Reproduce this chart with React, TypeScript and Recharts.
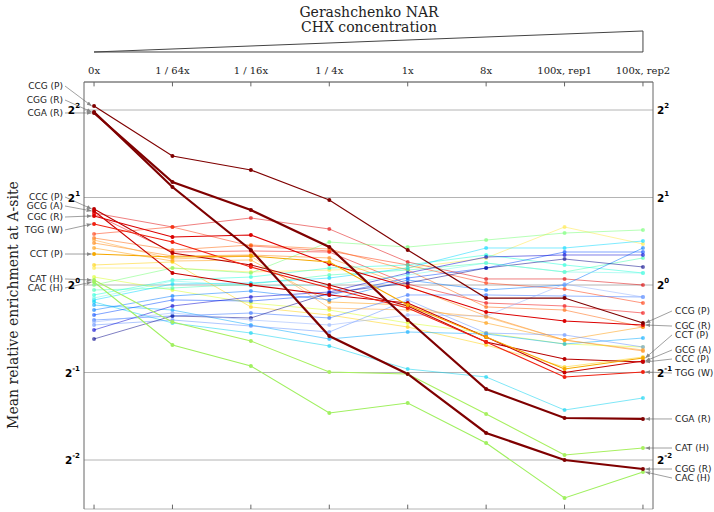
import React from 'react';
import { LineChart, Line, XAxis, YAxis, CartesianGrid, ReferenceLine, ReferenceDot } from 'recharts';

// x categories (CHX concentration)
const categories = ['0x', '1 / 64x', '1 / 16x', '1 / 4x', '1x', '8x', '100x, rep1', '100x, rep2'];
// y ticks: log2 of mean relative enrichment (labelled 2^n)
const yTicks = [-2, -1, 0, 1, 2];

// log2(mean relative enrichment at A-site), one value per category
const CCG_P = [2.046, 1.474, 1.314, 0.971, 0.4, -0.149, -0.149, -0.434];
const CGG_R = [1.977, 1.12, 0.4, -0.583, -1.017, -1.691, -2.0, -2.103];
const CGA_R = [1.966, 1.177, 0.857, 0.434, -0.4, -1.189, -1.52, -1.531];
const CCC_P = [0.869, 0.366, 0.229, 0.0, -0.24, -0.651, -0.846, -0.88];
const GCG_A = [0.846, 0.137, 0.0, -0.114, -0.206, -0.594, -1.0, -0.869];
const CGC_R = [0.789, 0.549, 0.571, 0.24, -0.023, -0.309, -0.411, -0.457];
const TGG_W = [0.697, 0.491, 0.206, -0.034, -0.263, -0.651, -1.051, -0.994];
const CCT_P = [0.354, 0.32, 0.331, 0.263, -0.229, -0.594, -0.96, -0.834];
const CAT_H = [0.057, -0.423, -0.64, -0.994, -1.017, -1.474, -1.943, -1.863];
const CAC_H = [0.034, -0.686, -0.926, -1.463, -1.349, -1.806, -2.434, -2.137];

// other codons (not annotated)
const u1 = [0.823, 0.663, 0.766, 0.64, 0.263, 0.069, 0.069, 0.0];
const u2 = [0.811, 0.377, 0.389, 0.377, 0.011, -0.206, -0.24, -0.32];
const u3 = [0.583, 0.663, 0.446, 0.389, 0.229, 0.023, -0.046, -0.206];
const u4 = [0.537, 0.4, 0.457, 0.411, 0.171, -0.251, -0.286, -0.48];
const u5 = [0.48, 0.331, 0.343, 0.309, -0.011, -0.354, -0.629, -0.754];
const u6 = [0.423, 0.274, 0.286, -0.194, -0.229, -0.434, -0.629, -0.48];
const u7 = [0.229, 0.263, -0.251, -0.343, -0.48, -0.686, -0.937, -0.823];
const u8 = [0.194, 0.194, 0.149, 0.171, 0.194, 0.309, 0.663, 0.469];
const u9 = [0.091, -0.057, -0.206, -0.286, -0.434, -0.549, -0.674, -0.709];
const u10 = [0.0, 0.194, 0.137, 0.491, 0.434, 0.514, 0.594, 0.629];
const u11 = [-0.057, -0.034, 0.011, 0.114, 0.171, 0.251, 0.149, 0.309];
const u12 = [-0.114, 0.057, 0.091, 0.194, 0.229, 0.343, 0.229, 0.137];
const u13 = [-0.171, 0.011, 0.023, 0.08, 0.194, 0.423, 0.423, 0.503];
const u14 = [-0.194, -0.434, -0.549, -0.697, -0.96, -1.051, -1.429, -1.291];
const u15 = [-0.229, -0.286, -0.457, -0.617, -0.537, -0.56, -0.674, -0.606];
const u16 = [-0.286, -0.126, -0.069, -0.171, 0.057, -0.057, 0.0, 0.423];
const u17 = [-0.343, -0.171, -0.183, -0.114, 0.08, 0.194, 0.377, 0.377];
const u18 = [-0.4, -0.354, -0.32, -0.377, -0.114, -0.114, -0.126, -0.137];
const u19 = [-0.457, -0.4, -0.469, -0.537, -0.171, -0.549, -0.571, -0.709];
const u20 = [-0.514, -0.24, -0.137, -0.08, 0.137, 0.32, 0.343, 0.343];
const u21 = [-0.617, -0.354, -0.377, -0.091, 0.023, 0.194, 0.297, 0.206];
const u22 = [-0.423, -0.32, -0.4, -0.457, -0.343, -0.354, 0.011, -0.137];
const u23 = [0.514, 0.297, 0.331, -0.263, -0.286, -0.366, -0.629, -0.743];
const u24 = [-0.149, 0.046, -0.011, 0.0, 0.114, 0.251, 0.149, 0.137];

const background = [
  { key: 'u1', values: u1, color: '#e00000' },
  { key: 'u2', values: u2, color: '#f00000' },
  { key: 'u3', values: u3, color: '#ff3000' },
  { key: 'u4', values: u4, color: '#ff6000' },
  { key: 'u5', values: u5, color: '#ff8000' },
  { key: 'u6', values: u6, color: '#ff9800' },
  { key: 'u7', values: u7, color: '#ffd000' },
  { key: 'u8', values: u8, color: '#ffe840' },
  { key: 'u9', values: u9, color: '#d8ff20' },
  { key: 'u10', values: u10, color: '#70ff70' },
  { key: 'u11', values: u11, color: '#40ffb0' },
  { key: 'u12', values: u12, color: '#20ffd8' },
  { key: 'u13', values: u13, color: '#00d8ff' },
  { key: 'u14', values: u14, color: '#00d0f0' },
  { key: 'u15', values: u15, color: '#00a8ff' },
  { key: 'u16', values: u16, color: '#0078ff' },
  { key: 'u17', values: u17, color: '#0048ff' },
  { key: 'u18', values: u18, color: '#3070ff' },
  { key: 'u19', values: u19, color: '#6090ff' },
  { key: 'u20', values: u20, color: '#0000d0' },
  { key: 'u21', values: u21, color: '#000088' },
  { key: 'u22', values: u22, color: '#90b0ff' },
  { key: 'u23', values: u23, color: '#ffa030' },
  { key: 'u24', values: u24, color: '#70f8e8' },
];

const annotated = [
  { key: 'CCC', name: 'CCC (P)', values: CCC_P, color: '#b80000', width: 1.1 },
  { key: 'GCG', name: 'GCG (A)', values: GCG_A, color: '#c80000', width: 1.1 },
  { key: 'CGC', name: 'CGC (R)', values: CGC_R, color: '#dc0000', width: 1.1 },
  { key: 'TGG', name: 'TGG (W)', values: TGG_W, color: '#f02010', width: 1.1 },
  { key: 'CCT', name: 'CCT (P)', values: CCT_P, color: '#f5a800', width: 1.1 },
  { key: 'CAT', name: 'CAT (H)', values: CAT_H, color: '#a8f060', width: 1.1 },
  { key: 'CAC', name: 'CAC (H)', values: CAC_H, color: '#a0f060', width: 1.1 },
  { key: 'CCG', name: 'CCG (P)', values: CCG_P, color: '#7f0000', width: 1.2 },
  { key: 'CGG', name: 'CGG (R)', values: CGG_R, color: '#7f0000', width: 2.2 },
  { key: 'CGA', name: 'CGA (R)', values: CGA_R, color: '#7f0000', width: 2.2 },
];

// annotation label anchor heights (log2 units) on the left and right margins
const labelLayout = [
  { key: 'CCG', left: 2.274, right: -0.297 },
  { key: 'CGG', left: 2.114, right: -2.103 },
  { key: 'CGA', left: 1.966, right: -1.531 },
  { key: 'CCC', left: 1.006, right: -0.846 },
  { key: 'GCG', left: 0.903, right: -0.743 },
  { key: 'CGC', left: 0.777, right: -0.469 },
  { key: 'TGG', left: 0.629, right: -1.006 },
  { key: 'CCT', left: 0.354, right: -0.571 },
  { key: 'CAT', left: 0.069, right: -1.863 },
  { key: 'CAC', left: -0.034, right: -2.206 },
];

const X_DOMAIN: [number, number] = [-0.128, 7.128];
const Y_DOMAIN: [number, number] = [-2.56, 2.32];

const data = categories.map((c, i) => {
  const row: Record<string, number | string> = { x: i, cat: c };
  background.forEach((s) => { row[s.key] = s.values[i]; });
  annotated.forEach((s) => { row[s.key] = s.values[i]; });
  return row;
});

const serif = 'DejaVu Serif, serif';
const sans = 'DejaVu Sans, sans-serif';

const XTick = (props: any) => {
  const { x, y, payload } = props;
  return (
    <text x={x} y={y} textAnchor="middle" fontFamily={serif} fontSize={10} fill="#222">
      {categories[payload.value]}
    </text>
  );
};

const YTick = (props: any) => {
  const { x, y, payload, anchor } = props;
  return (
    <text x={x} y={y + 4} textAnchor={anchor} fontFamily={sans} fontWeight="bold" fontSize={10.5} fill="#000">
      2
      <tspan dy={-6} fontSize={7}>{payload.value}</tspan>
    </text>
  );
};

const LabelText = (anchor: 'start' | 'end', text: string) => (props: any) => (
  <text x={props.cx} y={props.cy} dy="0.35em" textAnchor={anchor} fontFamily={sans} fontSize={9} fill="#222">
    {text}
  </text>
);

export default function App() {
  const lastIdx = categories.length - 1;
  return (
    <div style={{ position: 'absolute', left: 0, top: 0, width: 714, height: 512, background: '#fff' }}>
      <svg width={0} height={0} style={{ position: 'absolute' }}>
        <defs>
          <marker id="arr" viewBox="0 0 10 10" refX="10" refY="5" markerWidth="5" markerHeight="5" orient="auto" markerUnits="userSpaceOnUse">
            <path d="M0,1 L10,5 L0,9 z" fill="#888" />
          </marker>
        </defs>
      </svg>
      <LineChart width={714} height={512} data={data} margin={{ top: 62, right: 31, bottom: 3, left: 54 }}>
        <CartesianGrid xAxisId="t" yAxisId="l" vertical={false} stroke="#b4b4b4" strokeWidth={1} />
        <XAxis
          xAxisId="t"
          dataKey="x"
          type="number"
          orientation="top"
          domain={X_DOMAIN}
          ticks={categories.map((_, i) => i)}
          allowDataOverflow
          height={20}
          tickSize={0}
          tickMargin={8}
          tickLine={false}
          axisLine={{ stroke: '#666' }}
          tick={<XTick />}
        />
        <XAxis
          xAxisId="b"
          dataKey="x"
          type="number"
          orientation="bottom"
          domain={X_DOMAIN}
          allowDataOverflow
          height={0}
          tick={false}
          tickLine={false}
          axisLine={{ stroke: '#666' }}
        />
        <YAxis
          yAxisId="l"
          type="number"
          domain={Y_DOMAIN}
          ticks={yTicks}
          allowDataOverflow
          width={30}
          tickSize={0}
          tickMargin={4}
          tickLine={false}
          axisLine={{ stroke: '#666' }}
          tick={<YTick anchor="end" />}
        />
        <YAxis
          yAxisId="r"
          orientation="right"
          type="number"
          domain={Y_DOMAIN}
          ticks={yTicks}
          allowDataOverflow
          width={30}
          tickSize={0}
          tickMargin={4}
          tickLine={false}
          axisLine={{ stroke: '#666' }}
          tick={<YTick anchor="start" />}
        />

        {/* inward tick marks on top and bottom */}
        {categories.map((_, i) => (
          <ReferenceLine
            key={'tt' + i}
            xAxisId="t"
            yAxisId="l"
            segment={[{ x: i, y: Y_DOMAIN[1] }, { x: i, y: Y_DOMAIN[1] - 0.05 }]}
            stroke="#666"
            ifOverflow="visible"
          />
        ))}
        {categories.map((_, i) => (
          <ReferenceLine
            key={'tb' + i}
            xAxisId="t"
            yAxisId="l"
            segment={[{ x: i, y: Y_DOMAIN[0] }, { x: i, y: Y_DOMAIN[0] + 0.05 }]}
            stroke="#666"
            ifOverflow="visible"
          />
        ))}

        {/* CHX concentration wedge */}
        <ReferenceLine xAxisId="t" yAxisId="l" segment={[{ x: 0, y: 2.663 }, { x: lastIdx, y: 2.903 }]} stroke="#444" ifOverflow="visible" />
        <ReferenceLine xAxisId="t" yAxisId="l" segment={[{ x: lastIdx, y: 2.903 }, { x: lastIdx, y: 2.663 }]} stroke="#444" ifOverflow="visible" />
        <ReferenceLine xAxisId="t" yAxisId="l" segment={[{ x: 0, y: 2.663 }, { x: lastIdx, y: 2.663 }]} stroke="#444" ifOverflow="visible" />

        {background.map((s) => (
          <Line
            key={s.key}
            xAxisId="t"
            yAxisId="l"
            dataKey={s.key}
            type="linear"
            stroke={s.color}
            strokeOpacity={0.5}
            strokeWidth={1}
            dot={{ r: 2, fill: s.color, fillOpacity: 0.6, stroke: 'none' }}
            activeDot={false}
            isAnimationActive={false}
          />
        ))}
        {annotated.map((s) => (
          <Line
            key={s.key}
            xAxisId="t"
            yAxisId="l"
            dataKey={s.key}
            type="linear"
            stroke={s.color}
            strokeWidth={s.width}
            dot={{ r: 2, fill: s.color, stroke: 'none' }}
            activeDot={false}
            isAnimationActive={false}
          />
        ))}

        {/* annotation leader lines and labels */}
        {labelLayout.map((l) => {
          const s = annotated.find((a) => a.key === l.key)!;
          return (
            <ReferenceLine
              key={'ll' + l.key}
              xAxisId="t"
              yAxisId="l"
              segment={[{ x: -0.37, y: l.left }, { x: -0.03, y: s.values[0] }]}
              stroke="#888"
              strokeWidth={0.8}
              markerEnd="url(#arr)"
              ifOverflow="visible"
            />
          );
        })}
        {labelLayout.map((l) => {
          const s = annotated.find((a) => a.key === l.key)!;
          return (
            <ReferenceLine
              key={'lr' + l.key}
              xAxisId="t"
              yAxisId="l"
              segment={[{ x: 7.37, y: l.right }, { x: 7.03, y: s.values[lastIdx] }]}
              stroke="#888"
              strokeWidth={0.8}
              markerEnd="url(#arr)"
              ifOverflow="visible"
            />
          );
        })}
        {labelLayout.map((l) => {
          const s = annotated.find((a) => a.key === l.key)!;
          return (
            <ReferenceDot
              key={'tl' + l.key}
              xAxisId="t"
              yAxisId="l"
              x={-0.395}
              y={l.left}
              r={0}
              ifOverflow="visible"
              shape={LabelText('end', s.name)}
            />
          );
        })}
        {labelLayout.map((l) => {
          const s = annotated.find((a) => a.key === l.key)!;
          return (
            <ReferenceDot
              key={'tr' + l.key}
              xAxisId="t"
              yAxisId="l"
              x={7.41}
              y={l.right}
              r={0}
              ifOverflow="visible"
              shape={LabelText('start', s.name)}
            />
          );
        })}
      </LineChart>
      <svg width={714} height={512} style={{ position: 'absolute', left: 0, top: 0, pointerEvents: 'none' }}>
        <text x={369} y={16.5} textAnchor="middle" fontFamily={serif} fontSize={14} fill="#222">Gerashchenko NAR</text>
        <text x={369} y={32} textAnchor="middle" fontFamily={serif} fontSize={14} fill="#222">CHX concentration</text>
        <text
          transform="translate(13,305) rotate(-90)"
          textAnchor="middle"
          dominantBaseline="central"
          fontFamily={serif}
          fontSize={14}
          fill="#222"
        >
          Mean relative enrichment at A-site
        </text>
      </svg>
    </div>
  );
}
